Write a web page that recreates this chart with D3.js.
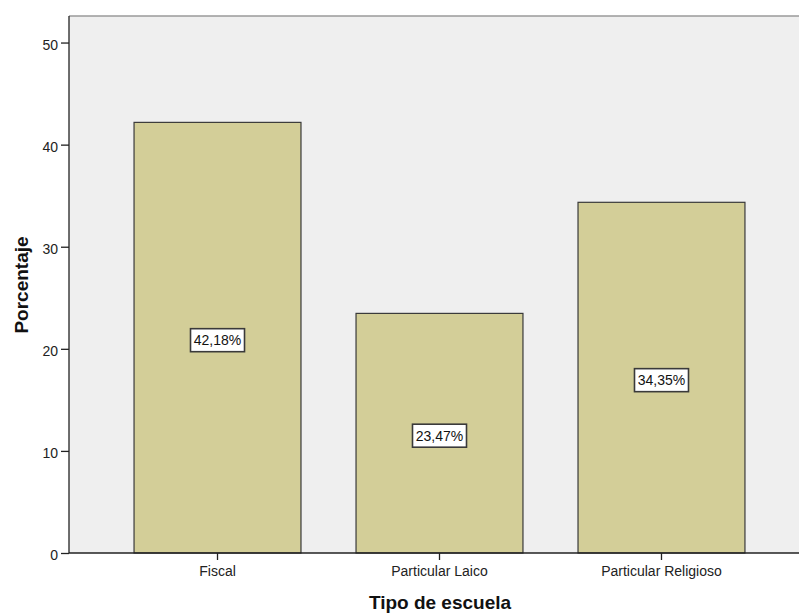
<!DOCTYPE html>
<html><head><meta charset="utf-8">
<script src="https://cdn.jsdelivr.net/npm/d3@7"></script>
<style>body{margin:0;background:#fff}svg{display:block}text{font-family:"Liberation Sans",Arial,sans-serif}</style>
</head><body>
<svg id="c" width="799" height="615"></svg>
<script>
const categories = ["Fiscal", "Particular Laico", "Particular Religioso"];
const values = [42.18, 23.47, 34.35];
const labels = ["42,18%", "23,47%", "34,35%"];
const yTicks = [0, 10, 20, 30, 40, 50];

const svg = d3.select("#c");
const L = 69, R = 810, T = 16, B = 553;
const x = d3.scaleBand().domain(categories).range([L, R]).paddingInner(0.248).paddingOuter(0.293);
const y = d3.scaleLinear().domain([0, 52.6]).range([B, T]);

svg.append("rect").attr("x", L).attr("y", T).attr("width", R - L).attr("height", B - T).attr("fill", "#efefef");
svg.append("line").attr("x1", L).attr("x2", 799).attr("y1", T).attr("y2", T).attr("stroke", "#9a9a9a").attr("stroke-width", 1.5);

svg.selectAll("rect.bar").data(categories).enter().append("rect").attr("class", "bar")
  .attr("x", d => x(d)).attr("width", x.bandwidth())
  .attr("y", (d, i) => y(values[i])).attr("height", (d, i) => y(0) - y(values[i]))
  .attr("fill", "#d3ce98").attr("stroke", "#3a3a3a").attr("stroke-width", 1.2);

// axes
const yAxis = svg.append("g").attr("transform", `translate(${L},0)`)
  .call(d3.axisLeft(y).tickValues(yTicks).tickSize(8).tickPadding(3).tickFormat(d3.format("d")));
yAxis.select(".domain").attr("d", `M0,${T}V${B}`).attr("stroke", "#222").attr("stroke-width", 1.3);
yAxis.selectAll(".tick line").attr("stroke", "#222").attr("stroke-width", 1.3);
yAxis.selectAll("text").attr("font-size", 14).attr("fill", "#222").attr("dy", "0.48em");

const xAxis = svg.append("g").attr("transform", `translate(0,${B})`)
  .call(d3.axisBottom(x).tickSize(7).tickPadding(5));
xAxis.select(".domain").attr("d", `M${L},0H799`).attr("stroke", "#222").attr("stroke-width", 1.3);
xAxis.selectAll(".tick line").attr("stroke", "#222").attr("stroke-width", 1.3);
xAxis.selectAll("text").attr("font-size", 14).attr("fill", "#222").attr("y", 13).attr("dy", "0.71em");

// value labels
const lg = svg.selectAll("g.lbl").data(categories).enter().append("g").attr("class", "lbl")
  .attr("transform", (d, i) => `translate(${x(d) + x.bandwidth() / 2},${y(values[i] / 2) + 2.5})`);
lg.append("rect").attr("x", -27).attr("y", -11.5).attr("width", 54).attr("height", 23)
  .attr("fill", "#fff").attr("stroke", "#3a3a3a").attr("stroke-width", 1.6);
lg.append("text").attr("text-anchor", "middle").attr("dy", "0.36em").attr("font-size", 14).attr("fill", "#111")
  .text((d, i) => labels[i]);

svg.append("text").attr("x", 440).attr("y", 609).attr("text-anchor", "middle")
  .attr("font-size", 19).attr("font-weight", "bold").attr("fill", "#111").text("Tipo de escuela");
svg.append("text").attr("transform", "translate(27.5,285) rotate(-90)").attr("text-anchor", "middle")
  .attr("font-size", 19).attr("font-weight", "bold").attr("fill", "#111").text("Porcentaje");
</script>
</body></html>
